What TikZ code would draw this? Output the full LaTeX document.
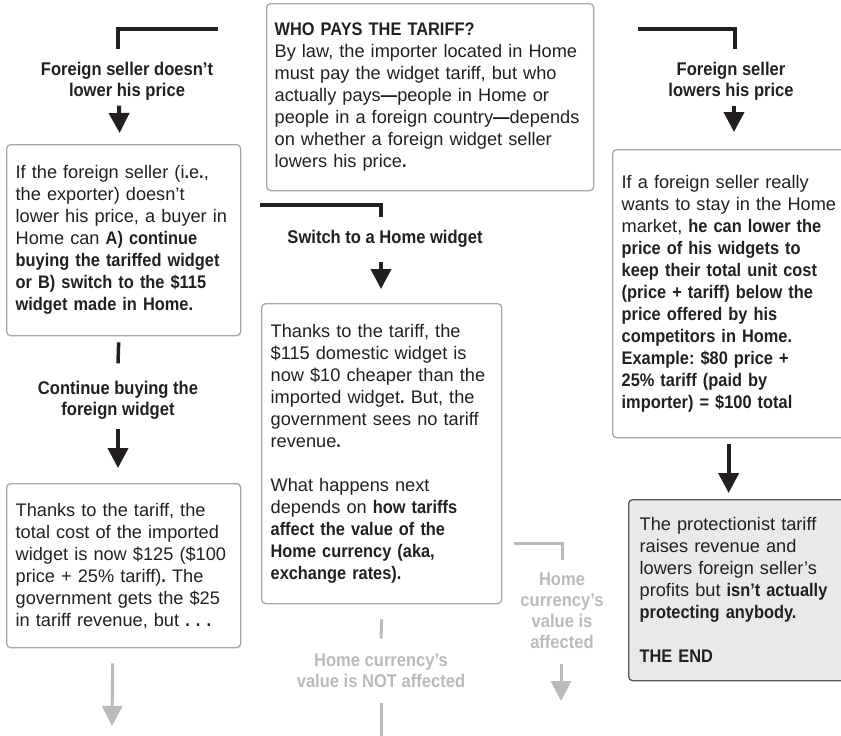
\documentclass[tikz,border=0pt]{standalone}
\usepackage{fontspec}
\setmainfont{Liberation Sans}[BoldFeatures={FakeStretch=0.9}]
\usetikzlibrary{arrows.meta,positioning}
\frenchspacing

\definecolor{ink}{HTML}{231F20}
\definecolor{boxline}{HTML}{A5A7AA}
\definecolor{fadegray}{HTML}{B8BABD}
\definecolor{endfill}{HTML}{E8E9EB}

\tikzset{
    txt/.style={font=\fontsize{18.2}{22}\selectfont, text=ink},
    box/.style={txt, draw=boxline, line width=1.3pt, rounded corners=4pt,
        align=left, inner xsep=9pt, anchor=north west},
    lbl/.style={font=\fontsize{18.4}{21}\selectfont\bfseries, text=ink, align=center},
    fadelbl/.style={lbl, text=fadegray},
    arr/.style={draw=ink, line width=4pt, -{Triangle[width=20pt,length=20pt]}},
    fadearr/.style={draw=fadegray, line width=3pt, -{Triangle[width=20pt,length=20pt]}},
    bracket/.style={draw=ink, line width=3.5pt},
    fadebracket/.style={draw=fadegray, line width=3pt},
}

\begin{document}
\begin{tikzpicture}[x=1pt,y=-1pt]
    \useasboundingbox (0,0) rectangle (841,736);
    \clip (0,0) rectangle (841,736);

    % Cuadros
    \node[box, text width=311pt, minimum height=187pt, inner xsep=8pt] (who) at (266,3)
        {\textbf{WHO PAYS THE TARIFF?}\\
         By law, the importer located in Home\\
         must pay the widget tariff, but who\\
         actually pays\textbf{---}people in Home or\\
         people in a foreign country\textbf{---}depends\\
         on whether a foreign widget seller\\
         lowers his price\textbf{.}};
    \node[box, text width=216pt, minimum height=191pt] (keep) at (6,144)
        {If the foreign seller (i\textbf{.}e\textbf{.},\\
         the exporter) doesn't\\
         lower his price, a buyer in\\
         Home can \textbf{A) continue}\\
         \textbf{buying the tariffed widget}\\
         \textbf{or B) switch to the \$115}\\
         \textbf{widget made in Home.}};
    \node[box, text width=216pt, minimum height=164pt] (cont) at (6,483)
        {Thanks to the tariff, the\\
         total cost of the imported\\
         widget is now \$125 (\$100\\
         price + 25\% tariff)\textbf{.} The\\
         government gets the \$25\\
         in tariff revenue, but \textbf{. . .}};
    \node[box, text width=222pt, minimum height=300pt] (swit) at (261,303)
        {Thanks to the tariff, the\\
         \$115 domestic widget is\\
         now \$10 cheaper than the\\
         imported widget\textbf{.} But, the\\
         government sees no tariff\\
         revenue\textbf{.}\\[22pt]
         What happens next\\
         depends on \textbf{how tariffs}\\
         \textbf{affect the value of the}\\
         \textbf{Home currency (aka,}\\
         \textbf{exchange rates).}};
    \node[box, text width=236pt, minimum height=288pt] (lowr) at (612,149)
        {If a foreign seller really\\
         wants to stay in the Home\\
         market, \textbf{he can lower the}\\
         \textbf{price of his widgets to}\\
         \textbf{keep their total unit cost}\\
         \textbf{(price + tariff) below the}\\
         \textbf{price offered by his}\\
         \textbf{competitors in Home.}\\
         \textbf{Example: \$80 price +}\\
         \textbf{25\% tariff (paid by}\\
         \textbf{importer) = \$100 total}};
    \node[box, fill=endfill, draw=ink!75, text width=224pt, minimum height=181pt,
        inner xsep=11pt] (fin) at (628,499)
        {The protectionist tariff\\
         raises revenue and\\
         lowers foreign seller's\\
         profits but \textbf{isn't actually}\\
         \textbf{protecting anybody.}\\[22pt]
         \textbf{THE END}};

    % Etiquetas
    \node[lbl] (nolow) at (127,81) {Foreign seller doesn't\\lower his price};
    \node[lbl] (yeslow) at (731,81) {Foreign seller\\lowers his price};
    \node[lbl] (buy) at (118,400) {Continue buying the\\foreign widget};
    \node[lbl] (home) at (385,239) {Switch to a Home widget};
    \node[fadelbl] (notaff) at (381,671) {Home currency's\\value is NOT affected};
    \node[fadelbl] (aff) at (562,611) {Home\\currency's\\value is\\affected};

    % Ramas
    \coordinate (brl) at (218,29);
    \coordinate (brr) at (638,29);
    \coordinate (brm) at (260,205);
    \coordinate (brg) at (514,543);
    \draw[bracket] (brl) -| ([xshift=-9pt,yshift=9pt]nolow.north);
    \draw[bracket] (brr) -| ([xshift=4pt,yshift=9pt]yeslow.north);
    \draw[bracket] (brm) -| ([xshift=-4pt,yshift=10pt]home.north);
    \draw[fadebracket] (brg) -| ([yshift=10pt]aff.north);

    % Flechas
    \draw[arr] ([xshift=-8pt,yshift=-2pt]nolow.south) -- ([xshift=-4pt,yshift=11pt]keep.north);
    \draw[bracket] ([xshift=-5pt,yshift=-6pt]keep.south) -- ([yshift=14pt]buy.north);
    \draw[arr] ([yshift=-6pt]buy.south) -- ([yshift=15pt]buy.south |- cont.north);
    \draw[arr] ([xshift=-4pt,yshift=-11pt]home.south) -- ([xshift=-4pt,yshift=14pt]home.south |- swit.north);
    \draw[arr] ([xshift=3pt,yshift=-2pt]yeslow.south) -- ([xshift=3pt,yshift=17pt]yeslow.south |- lowr.north);
    \draw[arr] ([xshift=-11pt,yshift=-6pt]lowr.south) -- ([xshift=-11pt,yshift=6pt]lowr.south |- fin.north);

    % Flechas grises
    \coordinate (nextl) at (112,726);
    \coordinate (nextm) at (381,740);
    \coordinate (nextr) at (561,701);
    \draw[fadearr] ([xshift=-11pt,yshift=-15pt]cont.south) -- (nextl);
    \draw[fadebracket] ([yshift=-15pt]swit.south) -- ([yshift=12pt]notaff.north);
    \draw[fadebracket] ([yshift=-12pt]notaff.south) -- (nextm);
    \draw[fadearr] ([xshift=-1pt,yshift=-12pt]aff.south) -- (nextr);
\end{tikzpicture}
\end{document}
